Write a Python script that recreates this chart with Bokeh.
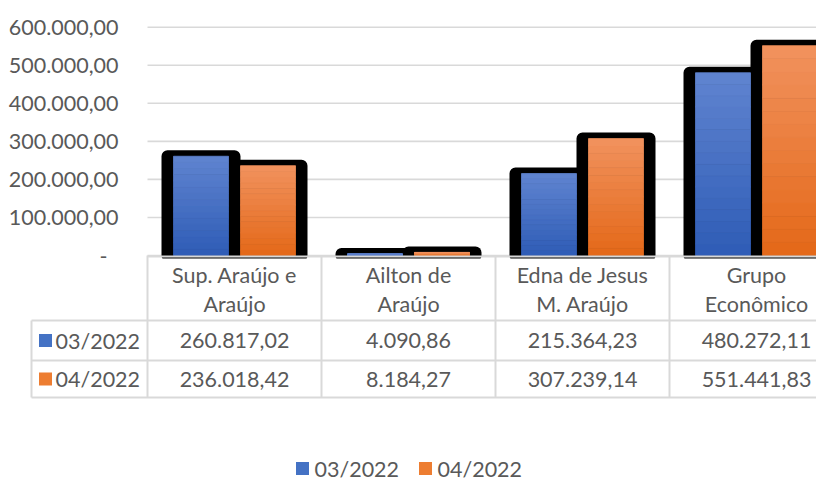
from bokeh.plotting import figure
from bokeh.models import Range1d
from bokeh.embed import file_html
from bokeh.resources import INLINE
from bokeh.core.properties import value

# ---------------- data ----------------
categories = ["Sup. Araújo e\nAraújo", "Ailton de\nAraújo", "Edna de Jesus\nM. Araújo", "Grupo\nEconômico"]
series_names = ["03/2022", "04/2022"]
values_0322 = [260817.02, 4090.86, 215364.23, 480272.11]
values_0422 = [236018.42, 8184.27, 307239.14, 551441.83]
y_ticks = [0, 100000, 200000, 300000, 400000, 500000, 600000]
y_tick_labels = ["-\u00a0\u00a0", "100.000,00", "200.000,00", "300.000,00",
                 "400.000,00", "500.000,00", "600.000,00"]

# ---------------- style / layout ----------------
FONT = "Lato"
FSIZE = "21.5px"
TXT = "#595959"
GRID = "#D9D9D9"
BLUE_TOP, BLUE_BOT = (96, 132, 208), (46, 92, 182)
ORNG_TOP, ORNG_BOT = (241, 146, 94), (228, 104, 24)
KEY_COLORS = ["#4472C4", "#ED7D31"]

W, H = 816, 480
FRAME_LEFT = 147          # px where the category area starts
CAT_PX = 174.0            # px per category column
PX_PER_100K = 38.05
ZERO_Y = 255              # px from top of figure where value 0 lies
BAR_W = 67 / CAT_PX
FILL_W = 55 / CAT_PX
N_SLICES = 16


def fmt_br(v):
    s = f"{v:,.2f}"
    return s.replace(",", "X").replace(".", ",").replace("X", ".")


def hexcol(c):
    return "#%02x%02x%02x" % tuple(int(round(x)) for x in c)


def lerp(a, b, t):
    return tuple(a[i] + (b[i] - a[i]) * t for i in range(3))


def px_x(px):
    return (px - FRAME_LEFT) / CAT_PX


x_start, x_end = px_x(0), px_x(W)
y_end = ZERO_Y / PX_PER_100K * 1e5
y_start = -(H - ZERO_Y) / PX_PER_100K * 1e5

p = figure(width=W, height=H, x_range=Range1d(x_start, x_end), y_range=Range1d(y_start, y_end),
           output_backend="svg", toolbar_location=None, x_axis_location=None, y_axis_location=None,
           min_border_left=0, min_border_right=0, min_border_top=0, min_border_bottom=0)
p.outline_line_color = None
p.grid.visible = False
p.extra_y_ranges = {"px": Range1d(H, 0)}

ncat = len(categories)
txt_kw = dict(text_font=value(FONT), text_font_size=FSIZE, text_color=TXT)

# ---------------- value axis ----------------
p.segment(x0=[0] * len(y_ticks), y0=y_ticks, x1=[x_end] * len(y_ticks), y1=y_ticks,
          line_color=GRID, line_width=1.6)
p.text(x=[px_x(118)] * len(y_ticks), y=y_ticks, text=y_tick_labels, text_align="right",
       text_baseline="middle", **txt_kw)

# ---------------- bars ----------------
series = [(values_0322, -0.5 * BAR_W, BLUE_TOP, BLUE_BOT),
          (values_0422, 0.5 * BAR_W, ORNG_TOP, ORNG_BOT)]

for vals, off, _, _ in series:
    xs = [i + 0.5 + off for i in range(ncat)]
    p.vbar(x=xs, width=BAR_W, top=vals, bottom=0, fill_color="black",
           line_color="black", line_width=12, line_join="round")

for vals, off, ctop, cbot in series:
    xs, tops, bots, cols = [], [], [], []
    for i, v in enumerate(vals):
        for k in range(N_SLICES):
            xs.append(i + 0.5 + off)
            bots.append(v * k / N_SLICES)
            tops.append(v * (k + 1) / N_SLICES)
            cols.append(hexcol(lerp(cbot, ctop, (k + 0.5) / N_SLICES)))
    p.vbar(x=xs, width=FILL_W, top=tops, bottom=bots, fill_color=cols,
           line_color=cols, line_width=0.8)

# ---------------- data table ----------------
KEY_LEFT = px_x(31)
ROW_LINES = [320, 360, 397]
ROW_Y = [340, 378.5]
HDR_Y = 289
TABLE_TOP = ZERO_Y

# cover bar outline overhang below the axis
p.quad(left=[x_start], right=[x_end], top=[TABLE_TOP + 3], bottom=[TABLE_TOP + 12],
       fill_color="white", line_color=None, y_range_name="px")

p.segment(x0=[0], y0=[TABLE_TOP + 1], x1=[x_end], y1=[TABLE_TOP + 1],
          line_color=GRID, line_width=2, y_range_name="px")
p.segment(x0=list(range(ncat + 1)), y0=[TABLE_TOP] * (ncat + 1), x1=list(range(ncat + 1)),
          y1=[ROW_LINES[-1]] * (ncat + 1), line_color=GRID, line_width=2, y_range_name="px")
p.segment(x0=[KEY_LEFT] * len(ROW_LINES), y0=ROW_LINES, x1=[ncat] * len(ROW_LINES), y1=ROW_LINES,
          line_color=GRID, line_width=2, y_range_name="px")
p.segment(x0=[KEY_LEFT], y0=[ROW_LINES[0]], x1=[KEY_LEFT], y1=[ROW_LINES[-1]],
          line_color=GRID, line_width=2, y_range_name="px")

p.text(x=[i + 0.5 for i in range(ncat)], y=[HDR_Y] * ncat, text=categories,
       text_align="center", text_baseline="middle", text_line_height=1.1,
       y_range_name="px", **txt_kw)
for r, vals in enumerate([values_0322, values_0422]):
    p.text(x=[i + 0.5 for i in range(ncat)], y=[ROW_Y[r]] * ncat,
           text=[fmt_br(v) for v in vals], text_align="center", text_baseline="middle",
           y_range_name="px", **txt_kw)

p.scatter(x=[px_x(45)] * 2, y=ROW_Y, marker="square", size=13, fill_color=KEY_COLORS,
          line_color=None, y_range_name="px")
p.text(x=[px_x(55)] * 2, y=ROW_Y, text=series_names, text_align="left",
       text_baseline="middle", y_range_name="px", **txt_kw)

# ---------------- bottom legend ----------------
LEG_Y = 468
p.scatter(x=[px_x(302), px_x(425)], y=[LEG_Y] * 2, marker="square", size=13,
          fill_color=KEY_COLORS, line_color=None, y_range_name="px")
p.text(x=[px_x(314), px_x(437)], y=[LEG_Y] * 2, text=series_names, text_align="left",
       text_baseline="middle", y_range_name="px", **txt_kw)

open("out.html", "w").write(file_html(p, INLINE))
